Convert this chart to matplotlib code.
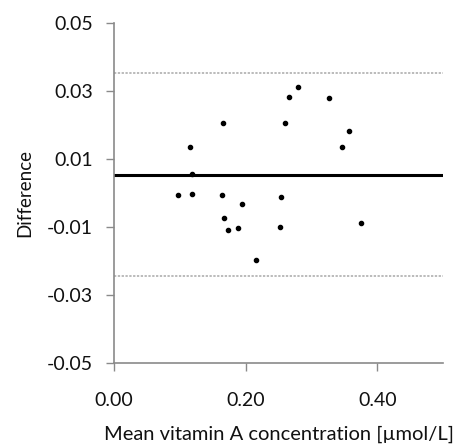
import matplotlib
matplotlib.use("Agg")
import matplotlib.pyplot as plt
from matplotlib.ticker import FormatStrFormatter

plt.rcParams['font.family'] = ['Lato', 'DejaVu Sans']
plt.rcParams['axes.unicode_minus'] = False

mean_conc = [0.280, 0.266, 0.326, 0.165, 0.260, 0.357, 0.115, 0.346, 0.118, 0.097,
             0.118, 0.164, 0.254, 0.194, 0.167, 0.174, 0.189, 0.253, 0.375, 0.216]
difference = [0.0313, 0.0282, 0.0279, 0.0207, 0.0207, 0.0182, 0.0136, 0.0135, 0.0057, -0.0005,
              -0.0003, -0.0007, -0.0012, -0.0033, -0.0074, -0.0110, -0.0104, -0.0099, -0.0088, -0.0198]
mean_diff = 0.0053
upper_loa = 0.0353
lower_loa = -0.0244
x_ticks = [0.0, 0.2, 0.4]
y_ticks = [-0.05, -0.03, -0.01, 0.01, 0.03, 0.05]

fig = plt.figure(figsize=(4.72, 4.46), dpi=100)
ax = fig.add_axes([0.2415, 0.1861, 0.6971, 0.7623])

ax.axhline(upper_loa, color='#a8a8a8', lw=1.1, ls=(0, (1.5, 1)))
ax.axhline(lower_loa, color='#a8a8a8', lw=1.1, ls=(0, (1.5, 1)))
ax.axhline(mean_diff, color='black', lw=2.2)
ax.scatter(mean_conc, difference, s=9, color='black', zorder=3)

ax.set_xlim(0, 0.5)
ax.set_ylim(-0.05, 0.05)
ax.set_xticks(x_ticks)
ax.set_yticks(y_ticks)
ax.xaxis.set_major_formatter(FormatStrFormatter('%.2f'))
ax.yaxis.set_major_formatter(FormatStrFormatter('%.2f'))

for s in ['top', 'right']:
    ax.spines[s].set_visible(False)
for s in ['left', 'bottom']:
    ax.spines[s].set_color('#8a8a8a')
    ax.spines[s].set_linewidth(1.2)
ax.tick_params(axis='both', direction='out', length=6, width=1, color='#8a8a8a',
               labelsize=14, labelcolor='#111111')
ax.tick_params(axis='y', pad=9)
ax.tick_params(axis='x', pad=15)

ax.set_xlabel('Mean vitamin A concentration [µmol/L]', fontsize=14.5, color='#111111', labelpad=12)
ax.set_ylabel('Difference', fontsize=13.5, color='#111111', labelpad=10)

fig.savefig('out.png', dpi=100)
